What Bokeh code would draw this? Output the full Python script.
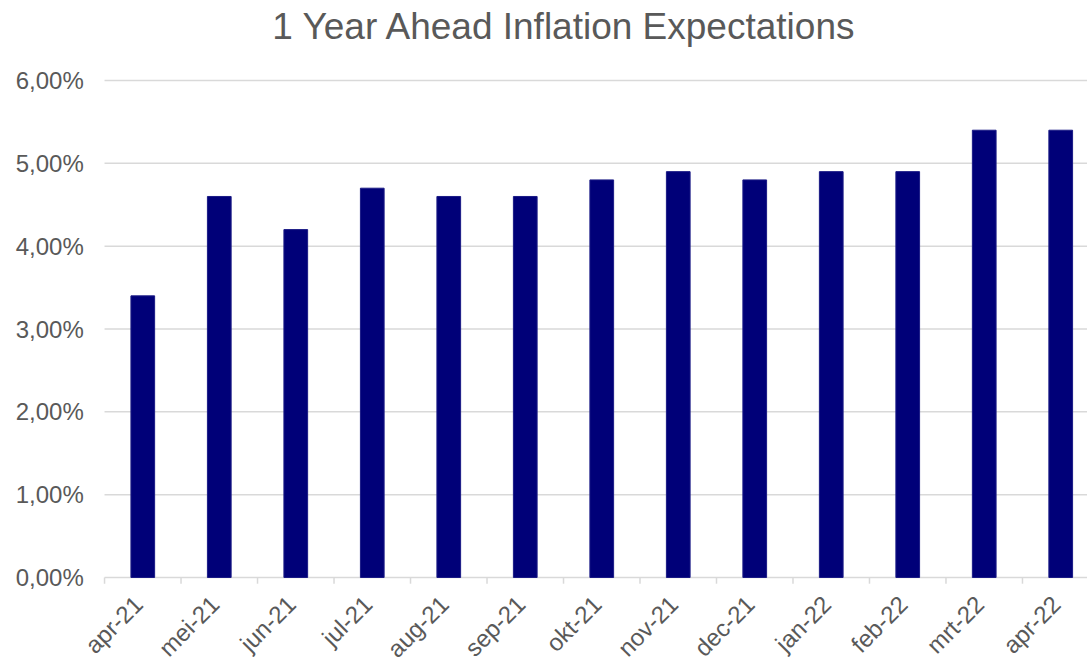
import math
from bokeh.plotting import figure
from bokeh.models import Range1d
from bokeh.core.properties import value
from bokeh.embed import file_html
from bokeh.resources import INLINE

months = ["apr-21", "mei-21", "jun-21", "jul-21", "aug-21", "sep-21", "okt-21",
          "nov-21", "dec-21", "jan-22", "feb-22", "mrt-22", "apr-22"]
values = [3.4, 4.6, 4.2, 4.7, 4.6, 4.6, 4.8, 4.9, 4.8, 4.9, 4.9, 5.4, 5.4]
y_ticks = [0, 1, 2, 3, 4, 5, 6]
y_tick_labels = ["0,00%", "1,00%", "2,00%", "3,00%", "4,00%", "5,00%", "6,00%"]
title_text = "1 Year Ahead Inflation Expectations"

FONT = "Liberation Sans"
GRAY = "#595959"
GRID = "#d9d9d9"

X_START, X_END = -1.86, 12.35
x = list(range(len(months)))
boundaries = [i - 0.5 for i in range(len(months) + 1)]

# the frame covers the whole canvas so that every text (axis labels that run
# past the plot area, the title) is drawn through the data scales
p = figure(width=1087, height=658, output_backend="svg", toolbar_location=None,
           title=None,
           x_range=Range1d(X_START, X_END), y_range=Range1d(-0.978, 6.966),
           min_border_left=0, min_border_right=0, min_border_top=0,
           min_border_bottom=0)
p.outline_line_color = None
p.background_fill_color = "white"
p.border_fill_color = "white"
p.xaxis.visible = False
p.yaxis.visible = False
p.xgrid.grid_line_color = None
p.ygrid.grid_line_color = None

# horizontal gridlines over the plot area (the one at 0 is the baseline)
p.segment(x0=-0.5, y0=y_ticks, x1=X_END, y1=y_ticks,
          line_color=GRID, line_width=1.5)

# category separator tick marks below the baseline
p.segment(x0=boundaries, y0=0, x1=boundaries, y1=-0.075,
          line_color=GRID, line_width=1.5)

p.vbar(x=x, top=values, width=0.31, fill_color="#000078", line_color="#1a1a85",
       line_width=1)

# y tick labels
p.text(x=-0.771, y=y_ticks, text=y_tick_labels, text_align="right",
       text_baseline="middle", text_font=value(FONT),
       text_font_size="24px", text_color=GRAY)

# category labels
p.text(x=x, y=0, text=months, angle=math.pi / 4, text_align="right",
       text_baseline="top", x_offset=-14, y_offset=13,
       text_font=value(FONT), text_font_size="24px", text_color=GRAY)

# title
p.text(x=[5.516], y=[6.655], text=[title_text], text_align="center",
       text_baseline="middle", text_font=value(FONT),
       text_font_size="37px", text_color=GRAY)

open("out.html", "w").write(file_html(p, INLINE))
